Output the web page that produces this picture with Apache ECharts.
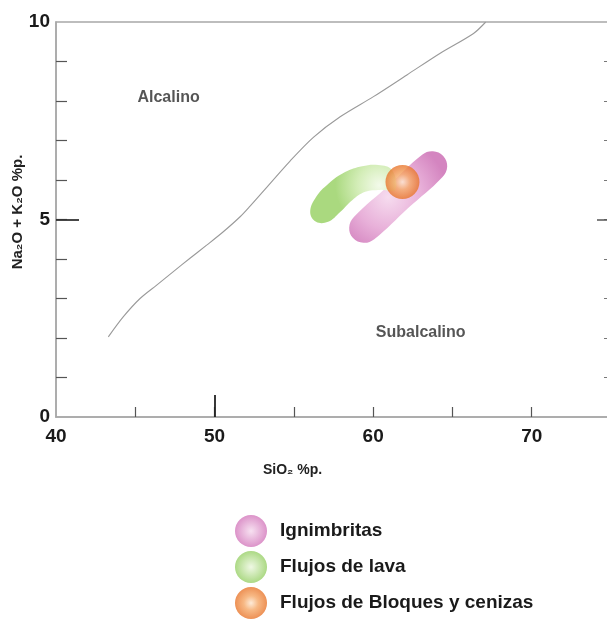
<!DOCTYPE html>
<html><head><meta charset="utf-8">
<script src="https://cdn.jsdelivr.net/npm/echarts@6/dist/echarts.min.js"></script>
<style>html,body{margin:0;padding:0;background:#fff}#c{width:607px;height:627px}</style>
</head><body><div id="c"></div>
<script>
// ---- data ----
const xLabelValues = [40, 50, 60, 70];
const xTickValues = [45, 50, 55, 60, 65, 70];
const xMajorTick = [50];
const yLabelValues = [0, 5, 10];
const yTickValues = [1, 2, 3, 4, 5, 6, 7, 8, 9];
const yMajorTick = [5];

// Irvine & Baragar alkaline / subalkaline boundary (SiO2, Na2O+K2O)
const boundary = [
  [43.30, 2.03], [44.25, 2.54], [45.30, 3.00], [46.35, 3.34], [47.40, 3.68],
  [48.45, 4.02], [49.50, 4.35], [50.55, 4.69], [51.61, 5.07], [52.24, 5.34],
  [53.19, 5.77], [54.76, 6.48], [56.23, 7.08], [57.92, 7.60], [60.02, 8.11],
  [62.13, 8.66], [64.23, 9.21], [66.33, 9.71], [67.10, 10.0]
];

// Ignimbritas field outline
const ignimbritas = [
  [58.80, 5.07], [60.95, 5.85], [63.09, 6.64], [63.77, 6.73], [64.42, 6.61],
  [64.67, 6.34], [64.36, 6.07], [62.21, 5.29], [60.07, 4.50], [59.39, 4.41],
  [58.73, 4.53], [58.49, 4.80]
];

// Flujos de lava field outline
const flujosLava = [
  [56.03, 5.19], [56.40, 5.57], [57.16, 5.90], [58.23, 6.20], [59.31, 6.35],
  [60.32, 6.38], [61.20, 6.25], [61.39, 5.75], [60.44, 5.75], [59.50, 5.70],
  [58.68, 5.49], [57.92, 5.19], [57.16, 4.94], [56.40, 4.94]
];

// Flujos de Bloques y cenizas
const bloquesCenizas = [[61.85, 5.95]];

const regionNames = ['Alcalino', 'Subalcalino'];
const regionAnchors = [[47.1, 8.08], [63.0, 2.13]];

// ---- chart ----
const FONT = "'Liberation Sans', Arial, sans-serif";
const G = echarts.graphic;
const pinkFill = new G.RadialGradient(0.4, 0.5, 0.65, [
  {offset: 0, color: '#f6dcef'}, {offset: 0.55, color: '#e8b0d9'}, {offset: 1, color: '#d485c0'}]);
const greenFill = new G.RadialGradient(0.8, 0.35, 0.75, [
  {offset: 0, color: '#f3faea'}, {offset: 0.5, color: '#d3edb7'}, {offset: 1, color: '#aad97f'}]);
const orangeFill = new G.RadialGradient(0.5, 0.5, 0.5, [
  {offset: 0, color: '#fde6cf'}, {offset: 0.45, color: '#f5a766'}, {offset: 1, color: '#e8752b'}]);
const legendPink = new G.RadialGradient(0.5, 0.5, 0.5, [
  {offset: 0, color: '#f7e1f1'}, {offset: 1, color: '#dc93c9'}]);
const legendGreen = new G.RadialGradient(0.5, 0.5, 0.5, [
  {offset: 0, color: '#eff8e4'}, {offset: 1, color: '#acd985'}]);

function makeField(name, outline, fill, legendFill, z) {
  return {
    name: name, type: 'custom', z: z, data: outline, itemStyle: {color: legendFill},
    encode: {x: 0, y: 1},
    renderItem: function (params, api) {
      if (params.dataIndex !== 0) return;
      const pts = outline.map(p => api.coord(p));
      return {type: 'polygon', shape: {points: pts, smooth: 0.4}, style: {fill: fill}};
    }
  };
}

const common = {min: 40, max: 75, type: 'value', gridIndex: 0};
const ycommon = {min: 0, max: 10, type: 'value', gridIndex: 0};

const chart = echarts.init(document.getElementById('c'), null, {renderer: 'canvas'});
chart.setOption({
  animation: false,
  backgroundColor: '#fff',
  grid: {left: 56, top: 22, width: 555, height: 395, outerBoundsMode: 'none', containLabel: false,
    show: true, borderColor: '#a8a8a8', borderWidth: 1.5},
  xAxis: [
    Object.assign({}, common, {
      position: 'bottom',
      axisLine: {show: true, lineStyle: {color: '#a8a8a8', width: 1.5}},
      axisTick: {show: true, inside: true, length: 10, customValues: xTickValues, lineStyle: {color: '#555', width: 1.2}},
      axisLabel: {show: true, customValues: xLabelValues, margin: 10, fontFamily: FONT, fontWeight: 'bold', fontSize: 19, color: '#1a1a1a'},
      splitLine: {show: false}
    }),
    Object.assign({}, common, {
      position: 'bottom',
      axisLine: {show: false},
      axisTick: {show: true, inside: true, length: 22, customValues: xMajorTick, lineStyle: {color: '#222', width: 1.8}},
      axisLabel: {show: false}, splitLine: {show: false}
    })
  ],
  yAxis: [
    Object.assign({}, ycommon, {
      position: 'left',
      axisLine: {show: true, lineStyle: {color: '#a8a8a8', width: 1.5}},
      axisTick: {show: true, inside: true, length: 11, customValues: yTickValues, lineStyle: {color: '#555', width: 1.2}},
      axisLabel: {show: true, customValues: yLabelValues, margin: 6, fontFamily: FONT, fontWeight: 'bold', fontSize: 19, color: '#1a1a1a'},
      splitLine: {show: false}
    }),
    Object.assign({}, ycommon, {
      position: 'left',
      axisLine: {show: false},
      axisTick: {show: true, inside: true, length: 23, customValues: yMajorTick, lineStyle: {color: '#333', width: 1.8}},
      axisLabel: {show: false}, splitLine: {show: false}
    }),
    Object.assign({}, ycommon, {
      position: 'right',
      axisLine: {show: false},
      axisTick: {show: true, inside: true, length: 7, customValues: yTickValues, lineStyle: {color: '#777', width: 1}},
      axisLabel: {show: false}, splitLine: {show: false}
    }),
    Object.assign({}, ycommon, {
      position: 'right',
      axisLine: {show: false},
      axisTick: {show: true, inside: true, length: 14, customValues: yMajorTick, lineStyle: {color: '#555', width: 1.5}},
      axisLabel: {show: false}, splitLine: {show: false}
    })
  ],
  graphic: [
    {type: 'text', left: 263, top: 463, style: {text: 'SiO₂ %p.', font: 'bold 14px ' + FONT, fill: '#222'}},
    {type: 'text', x: 18, y: 212, rotation: Math.PI / 2, style: {text: 'Na₂O + K₂O %p.', font: 'bold 15px ' + FONT, fill: '#222', align: 'center', verticalAlign: 'middle'}}
  ],
  legend: {
    data: ['Ignimbritas', 'Flujos de lava', 'Flujos de Bloques y cenizas'],
    orient: 'vertical', left: 235, top: 515, padding: 0, itemWidth: 32, itemHeight: 32, itemGap: 4,
    icon: 'circle',
    textStyle: {fontFamily: FONT, fontWeight: 'bold', fontSize: 19, color: '#1a1a1a', padding: [0, 0, 0, 8]}
  },
  series: [
    {
      name: 'límite', type: 'line', data: boundary, showSymbol: false, symbol: 'none', smooth: 0.3,
      lineStyle: {color: '#9a9a9a', width: 1.1}, z: 1, silent: true
    },
    makeField('Ignimbritas', ignimbritas, pinkFill, legendPink, 2),
    makeField('Flujos de lava', flujosLava, greenFill, legendGreen, 3),
    {
      name: 'Flujos de Bloques y cenizas', type: 'scatter', data: bloquesCenizas, symbol: 'circle', symbolSize: 34,
      itemStyle: {color: orangeFill}, z: 4
    },
    {
      name: 'regiones', type: 'scatter', symbolSize: 0, z: 5,
      data: regionNames.map((n, i) => ({name: n, value: regionAnchors[i]})),
      label: {show: true, position: 'inside', formatter: '{b}', fontFamily: FONT, fontWeight: 'bold', fontSize: 16, color: '#2a2a2a'}
    }
  ]
});
</script>
</body></html>
